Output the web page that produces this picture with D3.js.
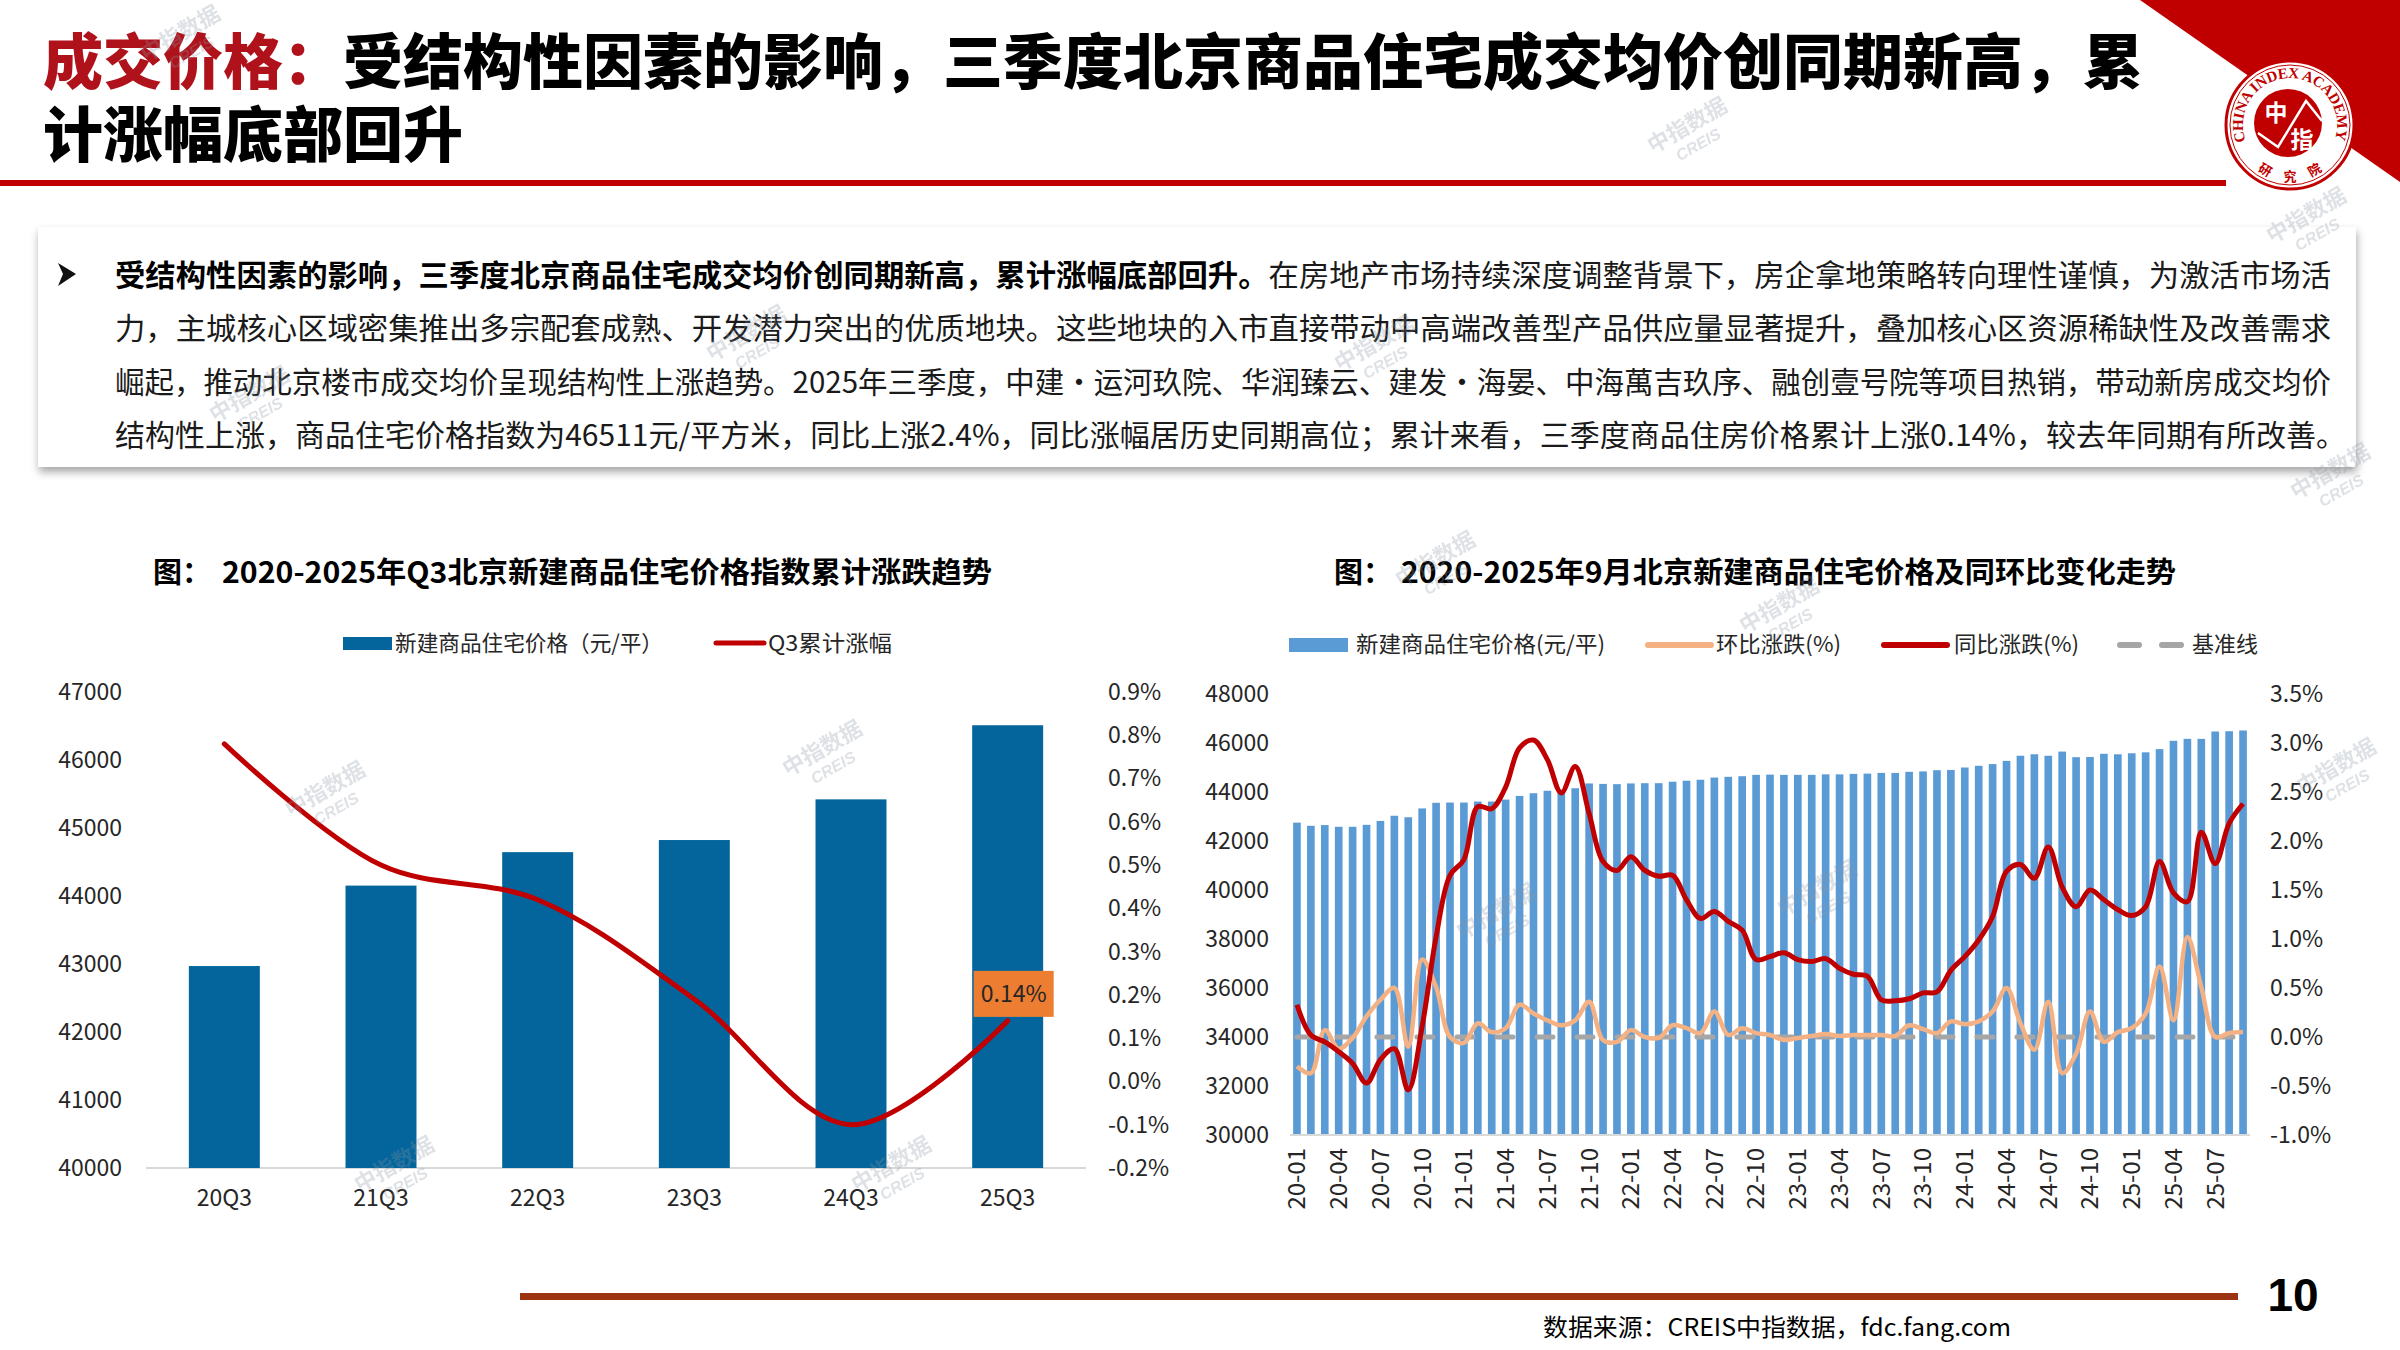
<!DOCTYPE html>
<html>
<head>
<meta charset="utf-8">
<script src="https://cdn.jsdelivr.net/npm/d3@7"></script>
<style>
body{margin:0;background:#fff;}
svg{display:block;font-family:"Noto Sans CJK SC","Noto Sans",sans-serif;}
</style>
</head>
<body>
<svg id="slide" width="2400" height="1350"></svg>
<script>
// ---------- data : left chart ----------
var quarters = ["20Q3","21Q3","22Q3","23Q3","24Q3","25Q3"];
var q3Price = [42970,44153,44645,44823,45421,46511];
var q3Cum = [0.78,0.50,0.42,0.19,-0.10,0.14];
var leftPriceTicks = [40000,41000,42000,43000,44000,45000,46000,47000];
var leftPctTicks = [-0.2,-0.1,0.0,0.1,0.2,0.3,0.4,0.5,0.6,0.7,0.8,0.9];

// ---------- data : right chart ----------
var months = ["20-01","20-02","20-03","20-04","20-05","20-06","20-07","20-08","20-09","20-10","20-11","20-12",
  "21-01","21-02","21-03","21-04","21-05","21-06","21-07","21-08","21-09","21-10","21-11","21-12",
  "22-01","22-02","22-03","22-04","22-05","22-06","22-07","22-08","22-09","22-10","22-11","22-12",
  "23-01","23-02","23-03","23-04","23-05","23-06","23-07","23-08","23-09","23-10","23-11","23-12",
  "24-01","24-02","24-03","24-04","24-05","24-06","24-07","24-08","24-09","24-10","24-11","24-12",
  "25-01","25-02","25-03","25-04","25-05","25-06","25-07","25-08","25-09"];
var monthPrice = [42750,42620,42650,42580,42580,42660,42820,43030,42970,43330,
  43560,43570,43570,43610,43610,43690,43840,43950,44050,44100,
  44153,44350,44330,44320,44350,44360,44360,44420,44460,44500,
  44590,44620,44645,44700,44710,44700,44700,44700,44720,44720,
  44740,44750,44780,44780,44823,44840,44890,44900,45000,45070,
  45140,45270,45480,45540,45480,45650,45421,45430,45560,45540,
  45580,45620,45750,46090,46170,46170,46470,46480,46511];
var momPct = [-0.30,-0.37,0.07,-0.12,-0.01,0.21,0.38,0.50,-0.10,0.79,
  0.51,0.00,-0.06,0.14,0.05,0.09,0.33,0.24,0.17,0.12,
  0.17,0.36,-0.03,-0.05,0.07,0.00,-0.01,0.12,0.09,0.04,
  0.26,0.02,0.09,0.04,0.02,-0.03,-0.01,0.01,0.03,0.01,
  0.02,0.02,0.02,0.01,0.12,0.08,0.04,0.16,0.13,0.16,
  0.26,0.50,0.14,-0.13,0.36,-0.37,-0.17,0.26,-0.05,0.05,
  0.09,0.24,0.72,0.17,1.02,0.51,0.00,0.04,0.05];
var yoyPct = [0.33,0.02,-0.05,-0.15,-0.27,-0.47,-0.23,-0.12,-0.54,0.11,
  1.02,1.65,1.81,2.35,2.33,2.55,2.95,3.03,2.83,2.49,
  2.76,2.28,1.79,1.70,1.84,1.70,1.64,1.65,1.40,1.21,
  1.28,1.18,1.09,0.79,0.82,0.86,0.79,0.77,0.80,0.70,
  0.64,0.62,0.38,0.37,0.39,0.45,0.46,0.68,0.82,0.99,
  1.23,1.69,1.76,1.62,1.94,1.53,1.33,1.50,1.40,1.30,
  1.24,1.33,1.79,1.47,1.38,2.09,1.77,2.18,2.38];
var baseLineValue = 0;
var monthTicks = ["20-01","20-04","20-07","20-10","21-01","21-04","21-07","21-10","22-01","22-04","22-07","22-10",
  "23-01","23-04","23-07","23-10","24-01","24-04","24-07","24-10","25-01","25-04","25-07"];
var rightPriceTicks = [30000,32000,34000,36000,38000,40000,42000,44000,46000,48000];
var rightPctTicks = [-1.0,-0.5,0.0,0.5,1.0,1.5,2.0,2.5,3.0,3.5];

// ---------- texts ----------
var titleRed = "成交价格：";
var titleBlack1 = "受结构性因素的影响，三季度北京商品住宅成交均价创同期新高，累";
var titleBlack2 = "计涨幅底部回升";
var paraBold = "受结构性因素的影响，三季度北京商品住宅成交均价创同期新高，累计涨幅底部回升。";
var paraLines = [
  "在房地产市场持续深度调整背景下，房企拿地策略转向理性谨慎，为激活市场活",
  "力，主城核心区域密集推出多宗配套成熟、开发潜力突出的优质地块。这些地块的入市直接带动中高端改善型产品供应量显著提升，叠加核心区资源稀缺性及改善需求",
  "崛起，推动北京楼市成交均价呈现结构性上涨趋势。2025年三季度，中建·运河玖院、华润臻云、建发·海晏、中海萬吉玖序、融创壹号院等项目热销，带动新房成交均价",
  "结构性上涨，商品住宅价格指数为46511元/平方米，同比上涨2.4%，同比涨幅居历史同期高位；累计来看，三季度商品住房价格累计上涨0.14%，较去年同期有所改善。"
];

var svg = d3.select("#slide");
var defs = svg.append("defs");
var sh = defs.append("filter").attr("id","shadow").attr("x","-5%").attr("y","-10%").attr("width","110%").attr("height","130%");
sh.append("feDropShadow").attr("dx",1).attr("dy",5).attr("stdDeviation",4).attr("flood-color","#000").attr("flood-opacity",0.35);

// ---------- header ----------
svg.append("path").attr("d","M2140,0 L2400,0 L2400,182 Z").attr("fill","#C00000");

var t1 = svg.append("text").attr("x",43).attr("y",84).attr("font-size",60).attr("font-weight",900)
  .attr("textLength",2100).attr("lengthAdjust","spacingAndGlyphs");
t1.append("tspan").attr("fill","#B0121B").text(titleRed);
t1.append("tspan").attr("fill","#000").text(titleBlack1);
svg.append("text").attr("x",43).attr("y",157).attr("font-size",60).attr("font-weight",900)
  .attr("fill","#000").text(titleBlack2);

svg.append("rect").attr("x",0).attr("y",180).attr("width",2226).attr("height",6).attr("fill","#C00000");

// logo
var logo = svg.append("g").attr("transform","translate(2290,125)");
logo.append("circle").attr("r",64).attr("fill","#fff").attr("stroke","#C00000").attr("stroke-width",3);
logo.append("circle").attr("r",60).attr("fill","none").attr("stroke","#C00000").attr("stroke-width",1);
defs.append("path").attr("id","logoArc").attr("d","M-44.2,16.1 A47,47 0 1 1 44.2,16.1");
logo.append("text").attr("font-family","Liberation Serif, serif").attr("font-size",15).attr("font-weight",700)
  .attr("fill","#C00000")
  .append("textPath").attr("href","#logoArc").attr("startOffset","0%").attr("textLength",178)
  .attr("lengthAdjust","spacing").text("CHINA INDEX ACADEMY");
logo.append("circle").attr("cx",-2).attr("cy",-2).attr("r",34).attr("fill","#C00000");
logo.append("polyline").attr("points","-32,8 -12,22 16,-24 32,-4").attr("fill","none")
  .attr("stroke","#fff").attr("stroke-width",2.5);
logo.append("text").attr("x",-14).attr("y",-4).attr("text-anchor","middle").attr("font-size",23)
  .attr("font-weight",700).attr("fill","#fff").text("中");
logo.append("text").attr("x",12).attr("y",23).attr("text-anchor","middle").attr("font-size",23)
  .attr("font-weight",700).attr("fill","#fff").text("指");
[["研",-27,49,30],["究",0,56,0],["院",27,49,-30]].forEach(function(c){
  logo.append("text").attr("transform","translate("+c[1]+","+c[2]+") rotate("+c[3]+")")
    .attr("text-anchor","middle").attr("font-size",13).attr("font-weight",700).attr("fill","#C00000").text(c[0]);
});

// ---------- text box ----------
svg.append("rect").attr("x",38).attr("y",227).attr("width",2318).attr("height",240)
  .attr("fill","#fff").attr("filter","url(#shadow)");
svg.append("path").attr("d","M58,263 L76,274 L58,286 L63,274 Z").attr("fill","#111");
var charW = 2216/73;
var lineY = [286,339,393,446];
svg.append("text").attr("x",115).attr("y",lineY[0]).attr("font-size",30).attr("font-weight",700).attr("fill","#000")
  .attr("textLength",charW*38).attr("lengthAdjust","spacingAndGlyphs").text(paraBold);
svg.append("text").attr("x",115+charW*38).attr("y",lineY[0]).attr("font-size",30).attr("fill","#1a1a1a")
  .attr("textLength",charW*35).attr("lengthAdjust","spacingAndGlyphs").text(paraLines[0]);
[1,2,3].forEach(function(i){
  svg.append("text").attr("x",115).attr("y",lineY[i]).attr("font-size",30).attr("fill","#1a1a1a")
    .attr("textLength", i===3 ? 2231 : 2216).attr("lengthAdjust","spacingAndGlyphs").text(paraLines[i]);
});

// ---------- left chart ----------
var gL = svg.append("g");
gL.append("text").attr("x",153).attr("y",583).attr("font-size",29).attr("font-weight",700).text("图：");
gL.append("text").attr("x",222).attr("y",583).attr("font-size",29).attr("font-weight",700)
  .attr("textLength",770).attr("lengthAdjust","spacingAndGlyphs")
  .text("2020-2025年Q3北京新建商品住宅价格指数累计涨跌趋势");

gL.append("rect").attr("x",343).attr("y",637).attr("width",49).attr("height",13).attr("fill","#03659C");
gL.append("text").attr("x",395).attr("y",651).attr("font-size",22).attr("fill","#262626")
  .attr("textLength",268).attr("lengthAdjust","spacingAndGlyphs").text("新建商品住宅价格（元/平）");
gL.append("line").attr("x1",716).attr("x2",764).attr("y1",643).attr("y2",643)
  .attr("stroke","#C00000").attr("stroke-width",5).attr("stroke-linecap","round");
gL.append("text").attr("x",768).attr("y",651).attr("font-size",22).attr("fill","#262626")
  .attr("textLength",124).attr("lengthAdjust","spacingAndGlyphs").text("Q3累计涨幅");

var xL = d3.scaleBand().domain(quarters).range([146,1086]).paddingInner(0.547).paddingOuter(0.2735);
var yL = d3.scaleLinear().domain([40000,47000]).range([1168,692]);
var yLp = d3.scaleLinear().domain([-0.2,0.9]).range([1168,692]);

gL.append("line").attr("x1",146).attr("x2",1086).attr("y1",1168).attr("y2",1168)
  .attr("stroke","#D9D9D9").attr("stroke-width",2);

gL.selectAll("rect.bar").data(quarters).enter().append("rect").attr("class","bar")
  .attr("x",function(d){return xL(d);})
  .attr("width",xL.bandwidth())
  .attr("y",function(d,i){return yL(q3Price[i]);})
  .attr("height",function(d,i){return yL(40000)-yL(q3Price[i]);})
  .attr("fill","#03659C");

var lineL = d3.line().x(function(d,i){return xL(quarters[i])+xL.bandwidth()/2;})
  .y(function(d){return yLp(d);}).curve(d3.curveCatmullRom.alpha(0.5));
gL.append("path").attr("d",lineL(q3Cum)).attr("fill","none").attr("stroke","#C00000")
  .attr("stroke-width",5).attr("stroke-linecap","round");

var lastQ = quarters[quarters.length-1];
var lx = xL(lastQ)+xL.bandwidth()/2+6, ly = yLp(q3Cum[q3Cum.length-1]);
gL.append("rect").attr("x",lx-40).attr("y",ly-50).attr("width",80).attr("height",46).attr("fill","#ED7D31");
gL.append("text").attr("x",lx).attr("y",ly-19).attr("text-anchor","middle").attr("font-size",23)
  .attr("fill","#262626").text(q3Cum[q3Cum.length-1].toFixed(2)+"%");

function styleAxis(g, size){
  g.select(".domain").remove();
  g.selectAll("text").attr("font-size",size).attr("fill","#262626")
    .attr("font-family","'Noto Sans CJK SC','Noto Sans',sans-serif");
}
gL.append("g").attr("transform","translate(130,0)")
  .call(d3.axisLeft(yL).tickValues(leftPriceTicks).tickSize(0).tickPadding(8).tickFormat(d3.format("d")))
  .call(styleAxis,23);
gL.append("g").attr("transform","translate(1100,0)")
  .call(d3.axisRight(yLp).tickValues(leftPctTicks).tickSize(0).tickPadding(8).tickFormat(function(d){return d.toFixed(1)+"%";}))
  .call(styleAxis,23);
gL.append("g").attr("transform","translate(0,1168)")
  .call(d3.axisBottom(xL).tickSize(0).tickPadding(22))
  .call(styleAxis,23);

// ---------- right chart ----------
var gR = svg.append("g");
gR.append("text").attr("x",1334).attr("y",583).attr("font-size",29).attr("font-weight",700).text("图：");
gR.append("text").attr("x",1401).attr("y",583).attr("font-size",29).attr("font-weight",700)
  .attr("textLength",775).attr("lengthAdjust","spacingAndGlyphs")
  .text("2020-2025年9月北京新建商品住宅价格及同环比变化走势");

gR.append("rect").attr("x",1289).attr("y",638).attr("width",59).attr("height",14).attr("fill","#5B9BD5");
gR.append("text").attr("x",1356).attr("y",652).attr("font-size",22).attr("fill","#262626")
  .attr("textLength",249).attr("lengthAdjust","spacingAndGlyphs").text("新建商品住宅价格(元/平)");
gR.append("line").attr("x1",1648).attr("x2",1711).attr("y1",645).attr("y2",645)
  .attr("stroke","#F4B183").attr("stroke-width",6).attr("stroke-linecap","round");
gR.append("text").attr("x",1716).attr("y",652).attr("font-size",22).attr("fill","#262626")
  .attr("textLength",125).attr("lengthAdjust","spacingAndGlyphs").text("环比涨跌(%)");
gR.append("line").attr("x1",1884).attr("x2",1947).attr("y1",645).attr("y2",645)
  .attr("stroke","#C00000").attr("stroke-width",6).attr("stroke-linecap","round");
gR.append("text").attr("x",1954).attr("y",652).attr("font-size",22).attr("fill","#262626")
  .attr("textLength",125).attr("lengthAdjust","spacingAndGlyphs").text("同比涨跌(%)");
gR.append("line").attr("x1",2120).attr("x2",2182).attr("y1",645).attr("y2",645)
  .attr("stroke","#A6A6A6").attr("stroke-width",6).attr("stroke-linecap","round").attr("stroke-dasharray","19,23");
gR.append("text").attr("x",2192).attr("y",652).attr("font-size",22).attr("fill","#262626")
  .attr("textLength",66).attr("lengthAdjust","spacingAndGlyphs").text("基准线");

var xR = d3.scaleBand().domain(months).range([1290,2250]).paddingInner(0.45).paddingOuter(0.225);
var yR = d3.scaleLinear().domain([30000,48000]).range([1135,694]);
var yRp = d3.scaleLinear().domain([-1.0,3.5]).range([1135,694]);
var cx = function(m){return xR(m)+xR.bandwidth()/2;};

gR.selectAll("rect.bar").data(months).enter().append("rect").attr("class","bar")
  .attr("x",function(d){return xR(d);})
  .attr("width",xR.bandwidth())
  .attr("y",function(d,i){return yR(monthPrice[i]);})
  .attr("height",function(d,i){return yR(30000)-yR(monthPrice[i]);})
  .attr("fill","#5B9BD5");
gR.append("line").attr("x1",1290).attr("x2",2250).attr("y1",1135).attr("y2",1135)
  .attr("stroke","#D9D9D9").attr("stroke-width",2);

gR.append("line").attr("x1",cx(months[0])).attr("x2",cx(months[months.length-1]))
  .attr("y1",yRp(baseLineValue)).attr("y2",yRp(baseLineValue))
  .attr("stroke","#A6A6A6").attr("stroke-width",5).attr("stroke-linecap","round").attr("stroke-dasharray","16,24");

var lineR = d3.line().x(function(d,i){return cx(months[i]);}).y(function(d){return yRp(d);})
  .curve(d3.curveCatmullRom.alpha(0.5));
gR.append("path").attr("d",lineR(momPct)).attr("fill","none").attr("stroke","#F4B183")
  .attr("stroke-width",4.5).attr("stroke-linejoin","round");
gR.append("path").attr("d",lineR(yoyPct)).attr("fill","none").attr("stroke","#C00000")
  .attr("stroke-width",5).attr("stroke-linejoin","round");

gR.append("g").attr("transform","translate(1277,0)")
  .call(d3.axisLeft(yR).tickValues(rightPriceTicks).tickSize(0).tickPadding(8).tickFormat(d3.format("d")))
  .call(styleAxis,23);
gR.append("g").attr("transform","translate(2262,0)")
  .call(d3.axisRight(yRp).tickValues(rightPctTicks).tickSize(0).tickPadding(8).tickFormat(function(d){return d.toFixed(1)+"%";}))
  .call(styleAxis,23);
var xAxR = gR.append("g").attr("transform","translate(0,1135)")
  .call(d3.axisBottom(xR).tickValues(monthTicks).tickSize(0))
  .call(styleAxis,24);
xAxR.selectAll("text").attr("transform","rotate(-90)").attr("text-anchor","end")
  .attr("x",-13).attr("y",0).attr("dy","0.35em");

// ---------- footer ----------
svg.append("rect").attr("x",520).attr("y",1293).attr("width",1718).attr("height",7).attr("fill","#9C3411");
svg.append("text").attr("x",2293).attr("y",1311).attr("text-anchor","middle").attr("font-size",46)
  .attr("font-weight",700).attr("font-family","'Liberation Sans',Arial,sans-serif").attr("fill","#000").text("10");
svg.append("text").attr("x",1543).attr("y",1336).attr("font-size",24).attr("fill","#000")
  .attr("textLength",468).attr("lengthAdjust","spacingAndGlyphs").text("数据来源：CREIS中指数据，fdc.fang.com");

// ---------- watermarks ----------
var marks = [[184,40],[1691,132],[2334,478],[2340,773],[329,796],[826,755],[398,1171],[895,1171],
  [1439,566],[1783,612],[1500,918],[1821,895],[253,401],[750,340],[1378,350],[2310,222]];
marks.forEach(function(p){
  var w = svg.append("g").attr("transform","translate("+p[0]+","+p[1]+") rotate(-30)").attr("opacity",0.28);
  w.append("text").attr("text-anchor","middle").attr("font-size",22).attr("font-weight",700)
    .attr("fill","#8a96a3").text("中指数据");
  w.append("text").attr("y",20).attr("text-anchor","middle").attr("font-size",16).attr("font-weight",700)
    .attr("font-style","italic").attr("font-family","'Liberation Sans',sans-serif").attr("fill","#8a96a3").text("CREIS");
});
</script>
</body>
</html>
